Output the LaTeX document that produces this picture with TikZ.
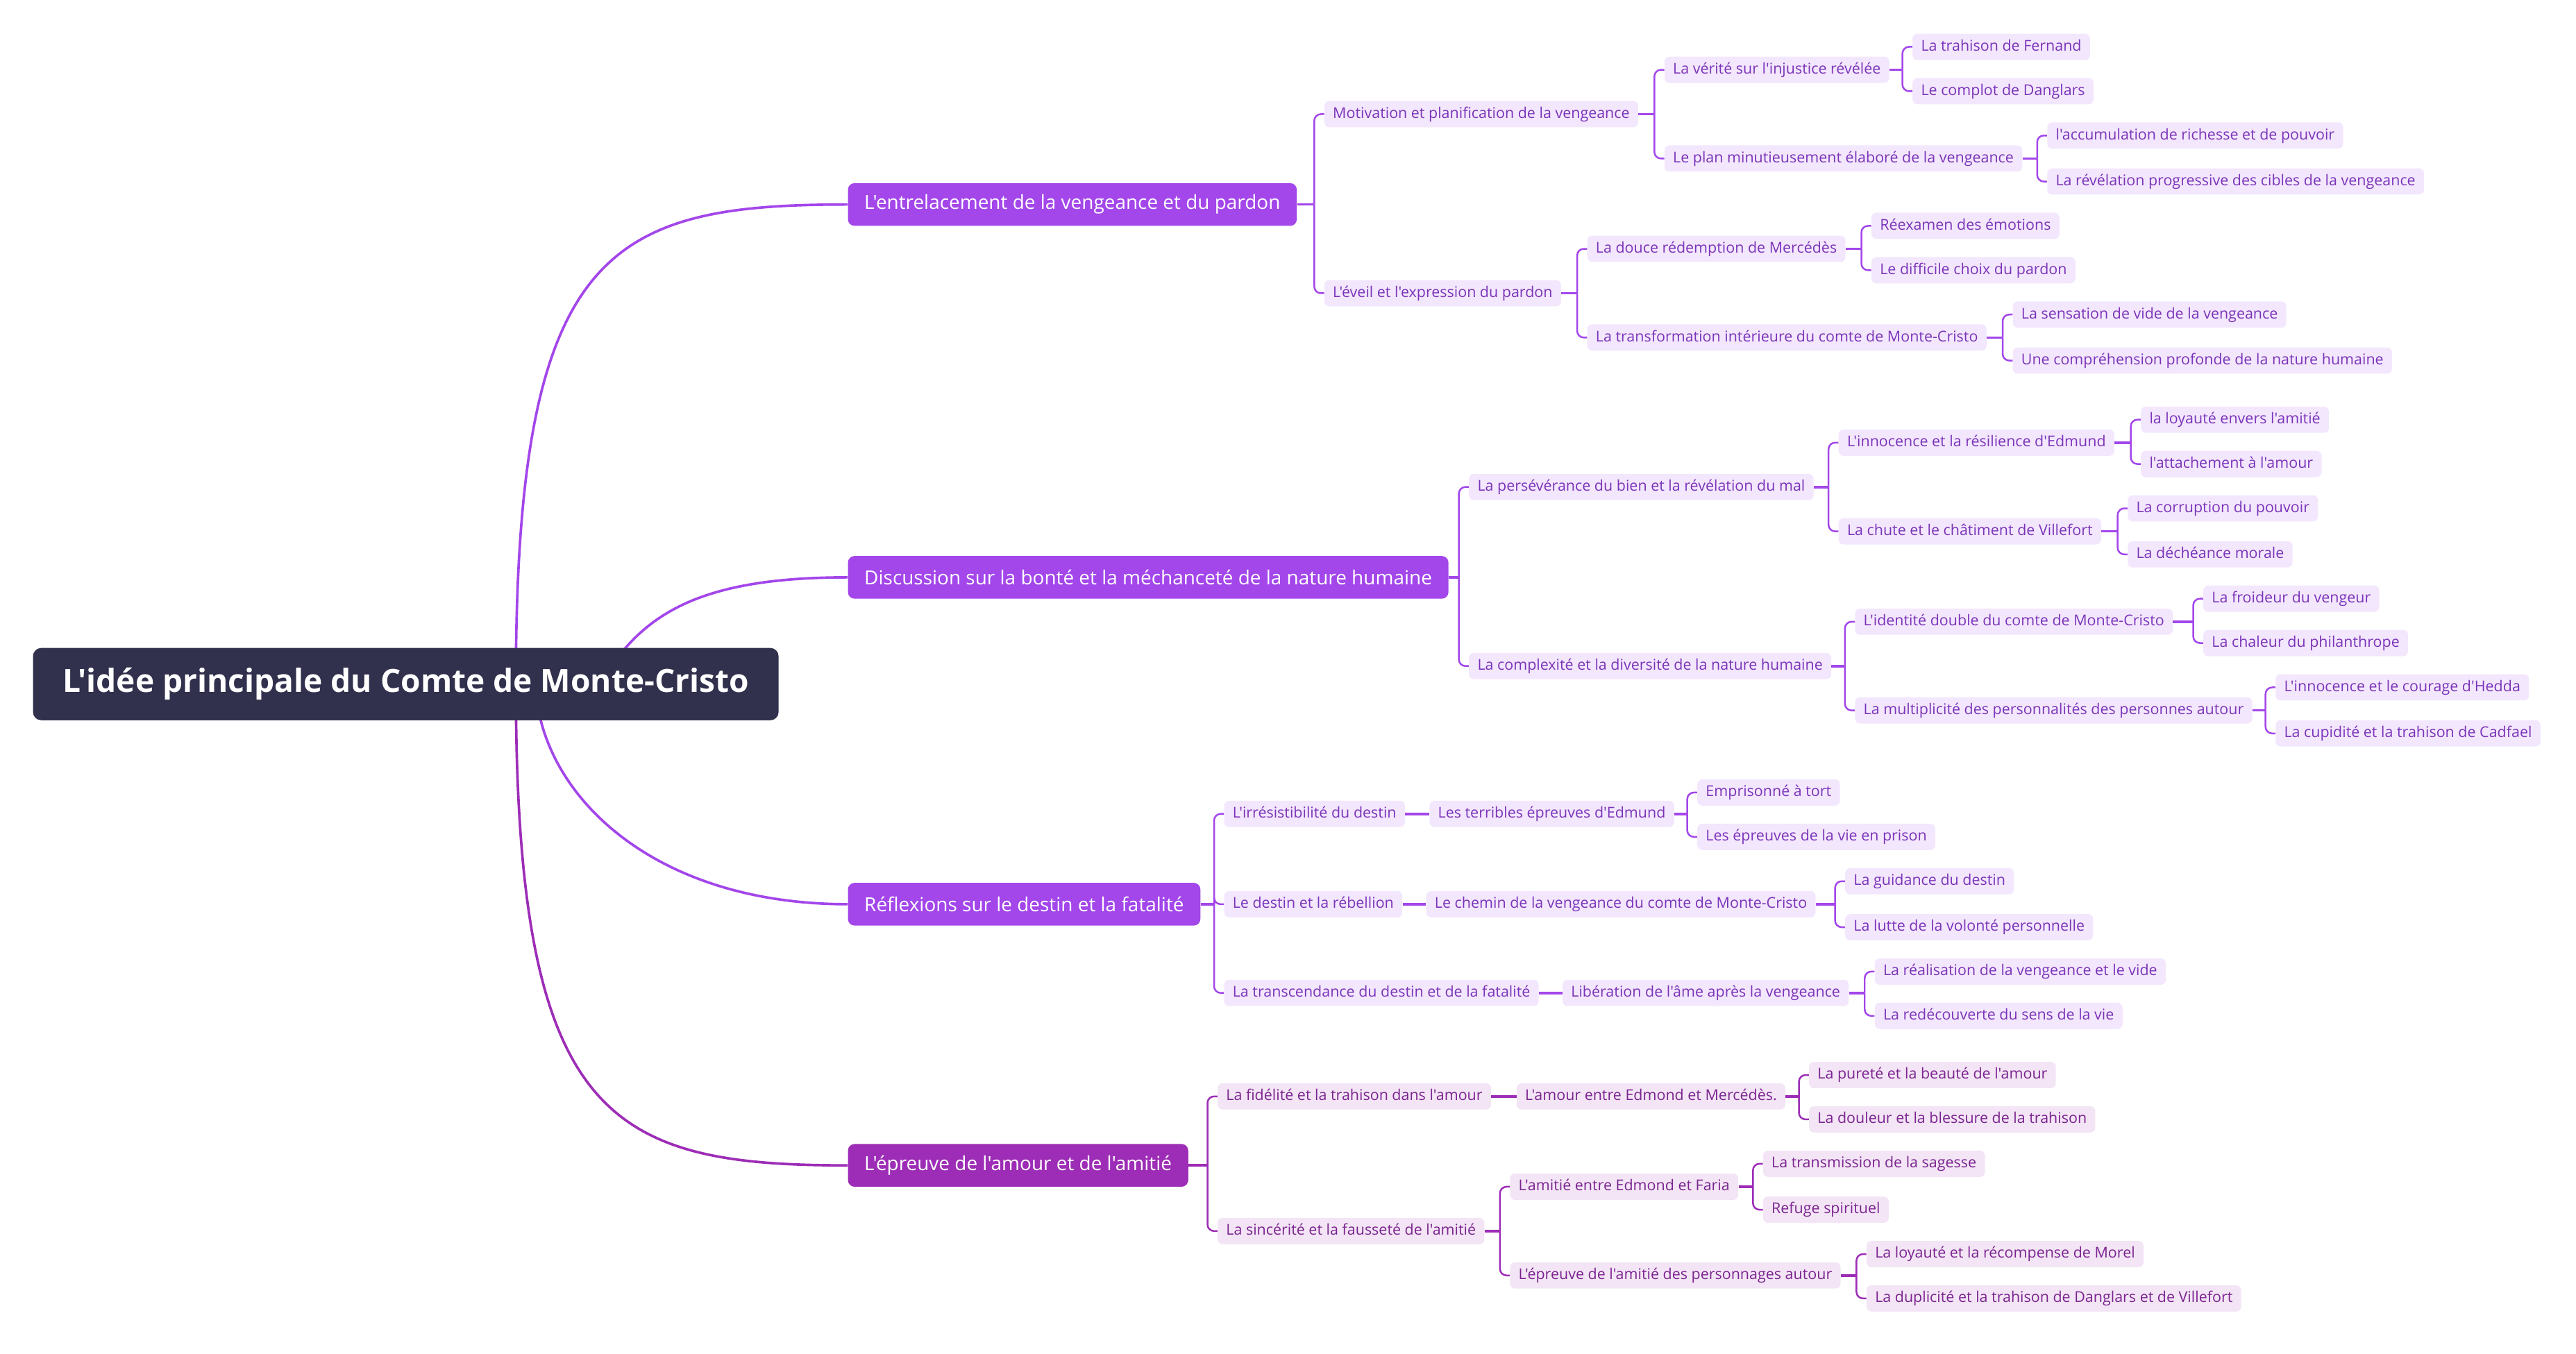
\documentclass[tikz,border=0pt]{standalone}
\usepackage{fontspec}
\setmainfont{Open Sans}[Ligatures=TeXOff]
\usetikzlibrary{calc, backgrounds}
\definecolor{nuit}{HTML}{31304D}
\definecolor{lilas}{HTML}{A346EA}
\definecolor{prune}{HTML}{9D2DB6}
\definecolor{lavande}{HTML}{F3E7FD}
\definecolor{mauve}{HTML}{F3E5F5}
\definecolor{encre}{HTML}{7B34B9}
\definecolor{encreprune}{HTML}{7B2490}

\tikzset{
  racine/.style={fill=nuit, text=white, font=\fontsize{27.7}{32}\selectfont\bfseries,
    rounded corners=0.25cm, minimum height=2.2cm, inner xsep=0.9cm},
  theme/.style={fill=#1, text=white, font=\fontsize{16.8}{20}\selectfont,
    rounded corners=0.2cm, minimum height=1.3cm, inner xsep=0.5cm, anchor=west},
  theme/.default=lilas,
  idee/.style={fill=lavande, text=encre, font=\fontsize{12.9}{15}\selectfont,
    rounded corners=0.15cm, minimum height=0.8cm, inner xsep=0.26cm, inner ysep=0pt,
    text height=1.75ex, text depth=0.45ex, anchor=west},
  ideeprune/.style={idee, fill=mauve, text=encreprune},
  lien/.style={draw=#1, line width=2.2pt},
  tige/.style={draw=#1, line width=2.2pt},
  fourche/.style={draw=#1, line width=1.5pt, rounded corners=0.2cm},
}

\begin{document}
\begin{tikzpicture}[x=0.05cm, y=-0.05cm]
    \useasboundingbox (0,-1.5) rectangle (1568,822.5);

    % Racine
    \node[racine] (racine) at (247,415) {L'idée principale du Comte de Monte-Cristo};

    % Themes
    \node[theme] (b1) at (516,123) {L'entrelacement de la vengeance et du pardon};
    \node[theme] (b2) at (516,350) {Discussion sur la bonté et la méchanceté de la nature humaine};
    \node[theme] (b3) at (516,549) {Réflexions sur le destin et la fatalité};
    \node[theme=prune] (b4) at (516,708) {L'épreuve de l'amour et de l'amitié};

    % Vengeance et pardon
    \node[idee] (b1a) at (806,68) {Motivation et planification de la vengeance};
    \node[idee] (b1b) at (806,177) {L'éveil et l'expression du pardon};
    \node[idee] (b1a1) at (1013,41) {La vérité sur l'injustice révélée};
    \node[idee] (b1a2) at (1013,95) {Le plan minutieusement élaboré de la vengeance};
    \node[idee] (b1a1x) at (1164,27) {La trahison de Fernand};
    \node[idee] (b1a1y) at (1164,54) {Le complot de Danglars};
    \node[idee] (b1a2x) at (1246,81) {l'accumulation de richesse et de pouvoir};
    \node[idee] (b1a2y) at (1246,109) {La révélation progressive des cibles de la vengeance};
    \node[idee] (b1b1) at (966,150) {La douce rédemption de Mercédès};
    \node[idee] (b1b2) at (966,204) {La transformation intérieure du comte de Monte-Cristo};
    \node[idee] (b1b1x) at (1139,136) {Réexamen des émotions};
    \node[idee] (b1b1y) at (1139,163) {Le difficile choix du pardon};
    \node[idee] (b1b2x) at (1225,190) {La sensation de vide de la vengeance};
    \node[idee] (b1b2y) at (1225,218) {Une compréhension profonde de la nature humaine};

    % Bonte et mechancete
    \node[idee] (b2a) at (894,295) {La persévérance du bien et la révélation du mal};
    \node[idee] (b2b) at (894,404) {La complexité et la diversité de la nature humaine};
    \node[idee] (b2a1) at (1119,268) {L'innocence et la résilience d'Edmund};
    \node[idee] (b2a2) at (1119,322) {La chute et le châtiment de Villefort};
    \node[idee] (b2a1x) at (1303,254) {la loyauté envers l'amitié};
    \node[idee] (b2a1y) at (1303,281) {l'attachement à l'amour};
    \node[idee] (b2a2x) at (1295,308) {La corruption du pouvoir};
    \node[idee] (b2a2y) at (1295,336) {La déchéance morale};
    \node[idee] (b2b1) at (1129,377) {L'identité double du comte de Monte-Cristo};
    \node[idee] (b2b2) at (1129,431) {La multiplicité des personnalités des personnes autour};
    \node[idee] (b2b1x) at (1341,363) {La froideur du vengeur};
    \node[idee] (b2b1y) at (1341,390) {La chaleur du philanthrope};
    \node[idee] (b2b2x) at (1385,417) {L'innocence et le courage d'Hedda};
    \node[idee] (b2b2y) at (1385,445) {La cupidité et la trahison de Cadfael};

    % Destin et fatalite
    \node[idee] (b3a) at (745,494) {L'irrésistibilité du destin};
    \node[idee] (b3a1) at (870,494) {Les terribles épreuves d'Edmund};
    \node[idee] (b3a1x) at (1033,481) {Emprisonné à tort};
    \node[idee] (b3a1y) at (1033,508) {Les épreuves de la vie en prison};
    \node[idee] (b3b) at (745,549) {Le destin et la rébellion};
    \node[idee] (b3b1) at (868,549) {Le chemin de la vengeance du comte de Monte-Cristo};
    \node[idee] (b3b1x) at (1123,535) {La guidance du destin};
    \node[idee] (b3b1y) at (1123,563) {La lutte de la volonté personnelle};
    \node[idee] (b3c) at (745,603) {La transcendance du destin et de la fatalité};
    \node[idee] (b3c1) at (951,603) {Libération de l'âme après la vengeance};
    \node[idee] (b3c1x) at (1141,590) {La réalisation de la vengeance et le vide};
    \node[idee] (b3c1y) at (1141,617) {La redécouverte du sens de la vie};

    % Amour et amitie
    \node[ideeprune] (b4a) at (741,666) {La fidélité et la trahison dans l'amour};
    \node[ideeprune] (b4a1) at (923,666) {L'amour entre Edmond et Mercédès.};
    \node[ideeprune] (b4a1x) at (1101,653) {La pureté et la beauté de l'amour};
    \node[ideeprune] (b4a1y) at (1101,680) {La douleur et la blessure de la trahison};
    \node[ideeprune] (b4b) at (741,748) {La sincérité et la fausseté de l'amitié};
    \node[ideeprune] (b4b1) at (919,721) {L'amitié entre Edmond et Faria};
    \node[ideeprune] (b4b2) at (919,775) {L'épreuve de l'amitié des personnages autour};
    \node[ideeprune] (b4b1x) at (1073,707) {La transmission de la sagesse};
    \node[ideeprune] (b4b1y) at (1073,735) {Refuge spirituel};
    \node[ideeprune] (b4b2x) at (1136,762) {La loyauté et la récompense de Morel};
    \node[ideeprune] (b4b2y) at (1136,789) {La duplicité et la trahison de Danglars et de Villefort};

    % Liens depuis la racine
    \begin{scope}[on background layer]
      \draw[lien=lilas] ($(racine.center)+(67,0)$) .. controls +(0,-265) and +(-146,0) .. (b1.west);
      \draw[lien=lilas] ($(racine.center)+(113,10)$) .. controls +(25,-50) and +(-96,0) .. (b2.west);
      \draw[lien=lilas] ($(racine.center)+(79,0)$) .. controls +(2,65) and +(-121,0) .. (b3.west);
      \draw[lien=prune] ($(racine.center)+(67,0)$) .. controls +(0,265) and +(-146,0) .. (b4.west);
    \end{scope}

    % Fourches
    \foreach \p/\enfants/\c in {b1/{b1a,b1b}/lilas, b1a/{b1a1,b1a2}/lilas,
        b1a1/{b1a1x,b1a1y}/lilas, b1a2/{b1a2x,b1a2y}/lilas, b1b/{b1b1,b1b2}/lilas,
        b1b1/{b1b1x,b1b1y}/lilas, b1b2/{b1b2x,b1b2y}/lilas,
        b2/{b2a,b2b}/lilas, b2a/{b2a1,b2a2}/lilas, b2a1/{b2a1x,b2a1y}/lilas,
        b2a2/{b2a2x,b2a2y}/lilas, b2b/{b2b1,b2b2}/lilas, b2b1/{b2b1x,b2b1y}/lilas,
        b2b2/{b2b2x,b2b2y}/lilas,
        b3/{b3a,b3b,b3c}/lilas, b3a1/{b3a1x,b3a1y}/lilas, b3b1/{b3b1x,b3b1y}/lilas,
        b3c1/{b3c1x,b3c1y}/lilas,
        b4/{b4a,b4b}/prune, b4a1/{b4a1x,b4a1y}/prune, b4b/{b4b1,b4b2}/prune,
        b4b1/{b4b1x,b4b1y}/prune, b4b2/{b4b2x,b4b2y}/prune}
      \foreach \e in \enfants {
        \draw[tige=\c] (\p.east) -- ($(\p.east -| \e.west)+(-6,0)$);
        \draw[fourche=\c] ($(\p.east -| \e.west)+(-6,0)$) |- (\e.west);
      };

    % Liens simples
    \foreach \p/\e/\c in {b3a/b3a1/lilas, b3b/b3b1/lilas, b3c/b3c1/lilas, b4a/b4a1/prune}
      \draw[tige=\c] (\p.east) -- (\e.west);
  \end{tikzpicture}
\end{document}
